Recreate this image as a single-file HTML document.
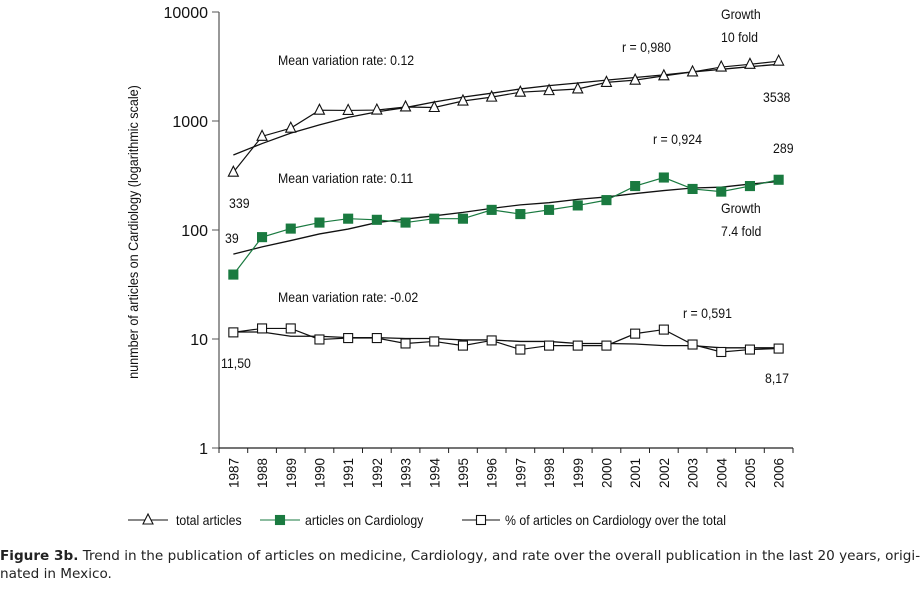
<!DOCTYPE html>
<html><head><meta charset="utf-8"><style>
body{margin:0;background:#fff;width:921px;height:595px;overflow:hidden;font-family:"Liberation Sans",sans-serif}
.cap{position:absolute;left:0;top:547px;width:921px;font-family:"DejaVu Sans","Liberation Sans",sans-serif;font-size:13.6px;line-height:18px;color:#222;white-space:nowrap}
</style></head><body>
<svg id="chart" width="921" height="545" style="position:absolute;left:0;top:0" font-family="Liberation Sans, sans-serif"></svg>
<div class="cap"><b>Figure 3b.</b> Trend in the publication of articles on medicine, Cardiology, and rate over the overall publication in the last 20 years, origi-<br>nated in Mexico.</div>
<script>
const years=[1987,1988,1989,1990,1991,1992,1993,1994,1995,1996,1997,1998,1999,2000,2001,2002,2003,2004,2005,2006];
const totalArticles=[339,723,859,1256,1250,1260,1345,1330,1525,1656,1837,1900,1967,2260,2370,2595,2820,3126,3310,3538];
const totalTrend=[488,621,774,921,1079,1213,1328,1494,1656,1799,1969,2110,2230,2372,2506,2649,2820,2980,3150,3312];
const cardioArticles=[39,86,103,117,127,124,117,127,127,153,140,153,168,188,253,303,238,225,253,289];
const cardioTrend=[60,70,80,92,102,117,126,135,145,158,170,178,191,201,216,230,243,247,264,279];
const pctArticles=[11.5,12.5,12.5,9.9,10.2,10.2,9.1,9.5,8.7,9.7,8.0,8.7,8.7,8.7,11.2,12.2,8.9,7.6,8.0,8.17];
const pctTrend=[11.6,11.6,10.6,10.6,10.3,10.3,10.1,10.1,9.8,9.8,9.5,9.5,9.1,9.1,9.0,8.7,8.7,8.3,8.3,8.3];
const yTicks=[1,10,100,1000,10000];

const svg=document.getElementById('chart');
const NS='http://www.w3.org/2000/svg';
const X0=219,CW=28.7,YTOP=12,DEC=109;
const xs=i=>X0+CW*(i+0.5);
const ys=v=>YTOP+(4-Math.log10(v))*DEC;
function mk(t,a,p){const e=document.createElementNS(NS,t);for(const k in a)e.setAttribute(k,a[k]);(p||svg).appendChild(e);return e;}
function txt(s,x,y,o){const e=mk('text',Object.assign({x:x,y:y,'font-size':14,fill:'#111'},o||{}));e.textContent=s;return e;}

const ya=mk('line',{x1:X0,y1:YTOP,x2:X0,y2:ys(1),stroke:'#777','stroke-width':1.5});


yTicks.forEach(v=>{
  mk('line',{x1:X0-7,y1:ys(v),x2:X0,y2:ys(v),stroke:'#555'});
  const t=txt(String(v),X0-11,ys(v)+6,{'text-anchor':'end','font-size':16});
  
  
});
const xa=mk('line',{x1:X0,y1:ys(1),x2:X0+CW*years.length,y2:ys(1),stroke:'#222','stroke-width':1.2});


for(let i=0;i<=years.length;i++)mk('line',{x1:X0+CW*i,y1:ys(1),x2:X0+CW*i,y2:ys(1)+5,stroke:'#222'});
years.forEach((y,i)=>{
  const t=txt(String(y),0,0,{'text-anchor':'end','font-size':13.5,transform:`translate(${xs(i)+5},${ys(1)+10}) rotate(-90)`});
  
  
});
const yt=txt('nunmber of articles on Cardiology (logarithmic scale)',0,0,{'text-anchor':'middle','font-size':14,transform:'translate(138,232) rotate(-90) scale(0.9,1)'});



function line(arr,color,w,name){
  const p=mk('polyline',{points:arr.map((v,i)=>xs(i)+','+ys(v)).join(' '),fill:'none',stroke:color,'stroke-width':w});
  
  
}
line(totalTrend,'#111',1.3,'total-trend-line');
line(cardioTrend,'#111',1.3,'cardiology-trend-line');
line(pctTrend,'#111',1.3,'percent-trend-line');
line(totalArticles,'#111',1.2,'total-articles-line');
line(cardioArticles,'#1a7a40',1.2,'cardiology-articles-line');
line(pctArticles,'#111',1.2,'percent-line');
function tri(x,y,name){const e=mk('polygon',{points:`${x},${y-6} ${x-5},${y+4} ${x+5},${y+4}`,fill:'#fff',stroke:'#111','stroke-width':1.1});}
function sq(x,y,fill,stroke,name){const e=mk('rect',{x:x-4.5,y:y-4.5,width:9,height:9,fill:fill,stroke:stroke,'stroke-width':1.1});}
totalArticles.forEach((v,i)=>tri(xs(i),ys(v),'total-point'));
cardioArticles.forEach((v,i)=>sq(xs(i),ys(v),'#1a7a40','#1a7a40','cardiology-point'));
pctArticles.forEach((v,i)=>sq(xs(i),ys(v),'#fff','#111','percent-point'));

const ann=[['Mean variation rate: 0.12',278,65],['r = 0,980',622,52],['Growth',721,19],['10 fold',721,42],['3538',763,102],['339',229,208],
['r = 0,924',653,144],['289',773,153],['Mean variation rate: 0.11',278,183],['39',225,243],['Growth',721,213],['7.4 fold',721,236],
['Mean variation rate: -0.02',278,302],['r = 0,591',683,318],['11,50',221,368],['8,17',765,383]];
ann.forEach(a=>{const t=txt(a[0],0,0,{transform:`translate(${a[1]},${a[2]}) scale(0.88,1)`});});

const lg=mk('g',{});


mk('line',{x1:128,y1:520,x2:168,y2:520,stroke:'#111'},lg);tri(148,520,'legend-marker-total');
mk('line',{x1:260,y1:520,x2:300,y2:520,stroke:'#1a7a40'},lg);sq(280,520,'#1a7a40','#1a7a40','legend-marker-cardiology');
mk('line',{x1:462,y1:520,x2:500,y2:520,stroke:'#111'},lg);sq(481,520,'#fff','#111','legend-marker-percent');
[['total articles',176],['articles on Cardiology',305],['% of articles on Cardiology over the total',505]].forEach(a=>{
  const t=txt(a[0],0,0,{transform:`translate(${a[1]},525) scale(0.88,1)`});
  
  
});
</script>
</body></html>
